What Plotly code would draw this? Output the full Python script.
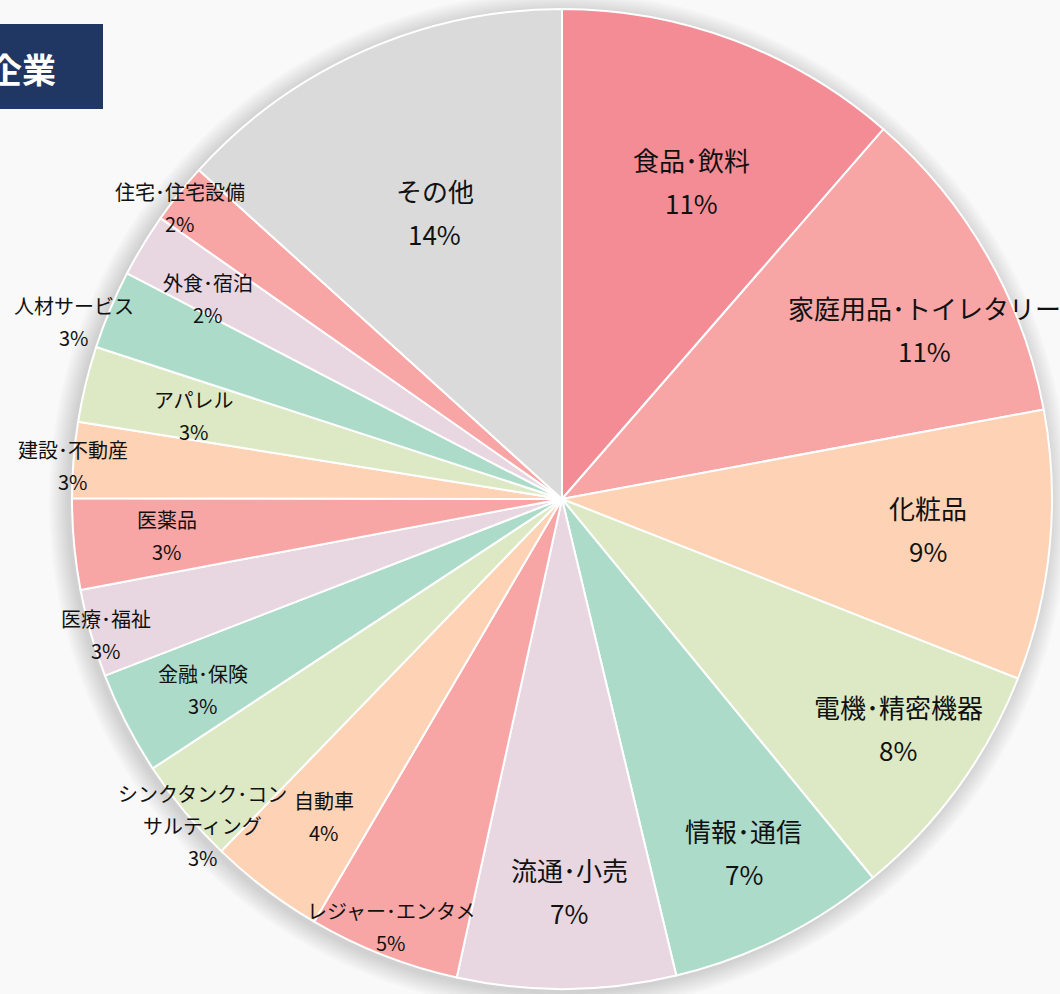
import math
import plotly.graph_objects as go

# ---- data ----
categories = ["食品・飲料", "家庭用品・トイレタリー", "化粧品", "電機・精密機器", "情報・通信",
              "流通・小売", "レジャー・エンタメ", "自動車", "シンクタンク・コン<br>サルティング",
              "金融・保険", "医療・福祉", "医薬品", "建設・不動産", "アパレル", "人材サービス",
              "外食・宿泊", "住宅・住宅設備", "その他"]
values = [11.4, 10.7, 8.9, 8.1, 7.2, 7.2, 5.0, 3.8, 3.5, 3.4, 2.9, 3.0, 2.5, 2.5, 2.6, 2.1, 2.0, 13.3]
pct_labels = ["11%", "11%", "9%", "8%", "7%", "7%", "5%", "4%", "3%", "3%", "3%", "3%", "3%",
              "3%", "3%", "2%", "2%", "14%"]
title_text = "企業"

# ---- styles ----
colors = ["#f48c96", "#f7a5a5", "#fed2b4", "#dde9c4", "#acdbc9", "#e8d6e1",
          "#f7a5a5", "#fed2b4", "#dde9c4", "#acdbc9", "#e8d6e1",
          "#f7a5a5", "#fed2b4", "#dde9c4", "#acdbc9", "#e8d6e1",
          "#f7a5a5", "#dadada"]
label_r = [0.70, 0.817, 0.75, 0.83, 0.81, 0.80, 0.94, 0.81, 0.99, 0.83, 0.97, 0.81,
           1.0, 0.77, 1.06, 0.83, 0.98, 0.64]
label_dang = [1.6, 4.7, -0.8, -1.8, -0.8, -0.5, 0.4, -0.3, -2.6, -0.7, -0.6, 0.1,
              -0.7, -0.8, -2.8, -1.7, -1.2, 0.0]
big = [True] * 6 + [False] * 11 + [True]

W, H = 1060, 994
cx, cy, R = 562, 499, 490
FONT = "Noto Sans CJK JP, Noto Sans, sans-serif"

fig = go.Figure(go.Pie(
    labels=[c.replace("<br>", "") for c in categories], values=values, sort=False,
    direction="clockwise", rotation=0,
    marker=dict(colors=colors, line=dict(color="white", width=2)),
    textinfo="none", hoverinfo="label+percent", showlegend=False,
    domain=dict(x=[(cx - R) / W, (cx + R) / W], y=[(H - cy - R) / H, (H - cy + R) / H]),
))

def px2paper(x, y):
    return x / W, 1 - y / H

# shadow
shapes = []
for i in range(10):
    rr = R + 2 + i * 2
    ox, oy = -3, 3
    x0, y0 = px2paper(cx + ox - rr, cy + oy + rr)
    x1, y1 = px2paper(cx + ox + rr, cy + oy - rr)
    shapes.append(dict(type="circle", xref="paper", yref="paper", x0=x0, y0=y0, x1=x1, y1=y1,
                       fillcolor="rgba(0,0,0,0.015)", line=dict(width=0), layer="below"))

# title box
bx0, by0 = px2paper(-20, 109)
bx1, by1 = px2paper(103, 24)
shapes.append(dict(type="rect", xref="paper", yref="paper", x0=bx0, y0=by0, x1=bx1, y1=by1,
                   fillcolor="#1f3762", line=dict(width=0), layer="above"))

annotations = []
tx, ty = px2paper(58, 68)
annotations.append(dict(x=tx, y=ty, xref="paper", yref="paper", text="<b>" + title_text + "</b>",
                        showarrow=False, xanchor="right", yanchor="middle",
                        font=dict(family=FONT, size=34, color="white")))

total = sum(values)
cum = 0
for i, v in enumerate(values):
    mid = (cum + v / 2) / total * 2 * math.pi + math.radians(label_dang[i])
    cum += v
    r = label_r[i] * R
    px = cx + r * math.sin(mid)
    py = cy - r * math.cos(mid)
    size = 26 if big[i] else 20
    s = 43 if big[i] else 32
    lines = categories[i].replace("・", "･").split("<br>")
    n = len(lines)
    top = py - s * n / 2
    for k, t in enumerate(lines + [pct_labels[i]]):
        ax, ay = px2paper(px, top + s * k)
        annotations.append(dict(x=ax, y=ay, xref="paper", yref="paper", text=t, showarrow=False,
                                xanchor="center", yanchor="middle",
                                font=dict(family=FONT, size=size, color="#111111")))

fig.update_layout(width=W, height=H, margin=dict(l=0, r=0, t=0, b=0),
                  paper_bgcolor="#f9f9f9", plot_bgcolor="#f9f9f9",
                  shapes=shapes, annotations=annotations)
fig.write_html("out.html", config={"displayModeBar": False},
               post_script="document.body.style.margin='0';document.body.style.overflow='hidden';")
